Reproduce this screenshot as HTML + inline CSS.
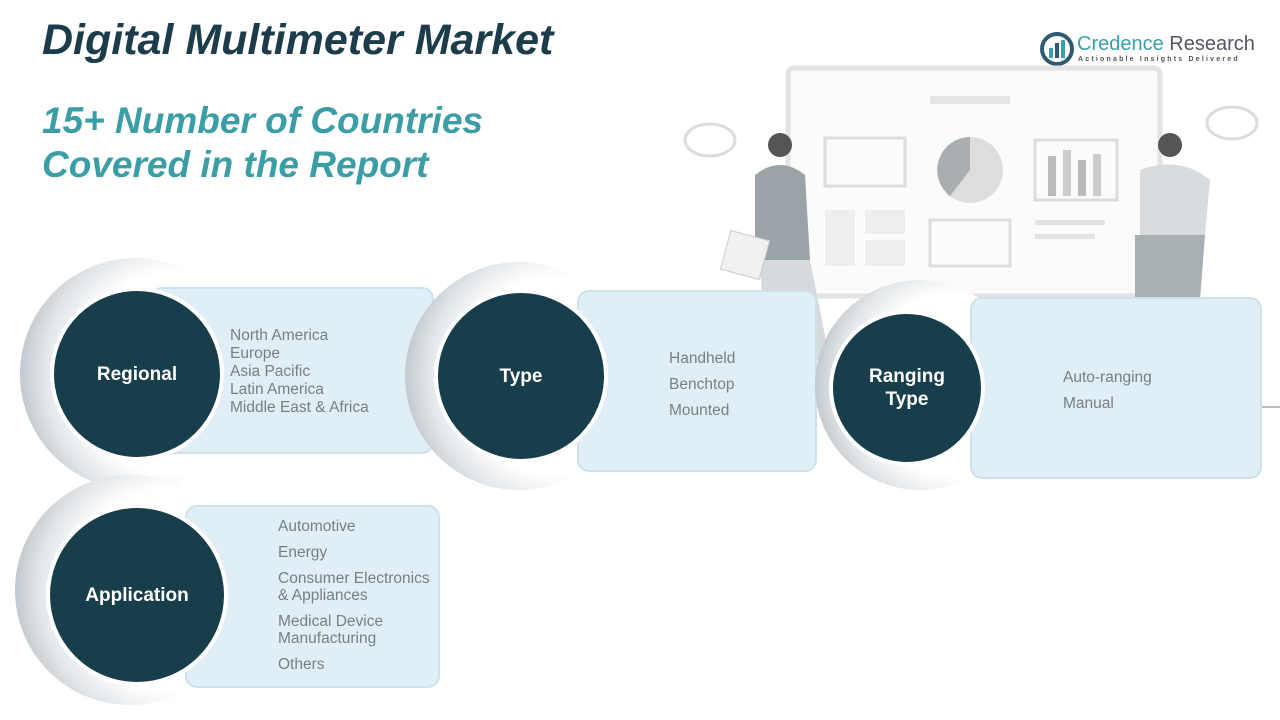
<!DOCTYPE html>
<html><head><meta charset="utf-8"><style>
body{margin:0;width:1280px;height:720px;background:#fff;position:relative;overflow:hidden;font-family:"Liberation Sans",sans-serif}
.a{position:absolute}
.t1{left:42px;top:16px;font-size:43px;font-weight:bold;font-style:italic;color:#1c3b4b}
.t2{left:42px;top:99px;font-size:37px;font-weight:bold;font-style:italic;color:#3b9ea6;line-height:44px}
.halo{position:absolute;border-radius:50%;background:radial-gradient(circle at 68% 50%,#fff 52%,#e3e7ea 68%,#8e9ba3 100%)}
.box{position:absolute;background:#e0eef6;border:2px solid #cfe2ec;border-radius:12px;color:#7a7f82;font-size:15.5px}
.c{position:absolute;border-radius:50%;background:#183d4b;border:4px solid #fff;color:#fff;font-weight:bold;font-size:19px;display:flex;align-items:center;justify-content:center;text-align:center;line-height:23px}
</style></head><body>
<div class="a t1">Digital Multimeter Market</div>
<div class="a t2">15+ Number of Countries<br>Covered in the Report</div>
<svg class="a" style="left:1040px;top:32px" width="34" height="34"><circle cx="17" cy="17" r="15" fill="none" stroke="#2f5b72" stroke-width="4"/><rect x="9" y="16" width="4" height="10" fill="#3aa0b0"/><rect x="15" y="11" width="4" height="15" fill="#2f5b72"/><rect x="21" y="8" width="4" height="18" fill="#3aa0b0"/></svg>
<div class="a" style="left:1077px;top:33px;font-size:20px;color:#3a9eb0">Credence <span style="color:#556">Research</span></div>
<div class="a" style="left:1078px;top:56px;font-size:7px;letter-spacing:2.2px;color:#555;font-weight:bold">Actionable Insights Delivered</div>
<svg class="a" style="left:680px;top:60px" width="600" height="360">
<rect x="108" y="8" width="372" height="228" rx="6" fill="#fbfbfb" stroke="#e3e3e3" stroke-width="5"/>
<rect x="250" y="36" width="80" height="8" fill="#e5e5e5"/>
<rect x="145" y="78" width="80" height="48" fill="none" stroke="#ddd" stroke-width="3"/>
<circle cx="290" cy="110" r="33" fill="#ddd"/><path d="M290 110 L290 77 A33 33 0 0 0 270 136Z" fill="#a9aeb1"/>
<rect x="355" y="80" width="82" height="60" fill="none" stroke="#ddd" stroke-width="3"/>
<rect x="368" y="96" width="8" height="40" fill="#bbb"/><rect x="383" y="90" width="8" height="46" fill="#ccc"/><rect x="398" y="100" width="8" height="36" fill="#bbb"/><rect x="413" y="94" width="8" height="42" fill="#ccc"/>
<rect x="145" y="150" width="30" height="56" fill="#eee"/><rect x="185" y="150" width="40" height="24" fill="#eee"/><rect x="185" y="180" width="40" height="26" fill="#eee"/>
<rect x="250" y="160" width="80" height="46" fill="none" stroke="#ddd" stroke-width="3"/>
<rect x="355" y="160" width="70" height="5" fill="#e3e3e3"/><rect x="355" y="174" width="60" height="5" fill="#e3e3e3"/>
<ellipse cx="30" cy="80" rx="25" ry="16" fill="none" stroke="#ddd" stroke-width="3"/>
<ellipse cx="552" cy="63" rx="25" ry="16" fill="none" stroke="#ddd" stroke-width="3"/>
<circle cx="100" cy="85" r="12" fill="#555"/><path d="M75 115 Q100 95 125 115 L130 200 L75 200Z" fill="#9aa3a8"/><path d="M80 200 L130 200 L150 300 L85 300Z" fill="#d7dadc"/>
<rect x="45" y="175" width="40" height="40" fill="#f1f1f1" stroke="#ccc" transform="rotate(15 65 195)"/>
<circle cx="490" cy="85" r="12" fill="#555"/><path d="M460 110 Q500 95 530 120 L525 175 L460 175Z" fill="#d9dcde"/><path d="M455 175 L525 175 L520 240 L455 240Z" fill="#a9b0b4"/>
<line x1="135" y1="347" x2="600" y2="347" stroke="#bbb" stroke-width="2"/>
</svg>
<div class="halo" style="left:20px;top:258px;width:232px;height:232px"></div>
<div class="box" style="left:150px;top:287px;width:280px;height:163px"><div style="position:absolute;left:78px;top:38px;line-height:18px">North America<br>Europe<br>Asia Pacific<br>Latin America<br>Middle East &amp; Africa</div></div>
<div class="c" style="left:50px;top:287px;width:166px;height:166px">Regional</div>
<div class="halo" style="left:405px;top:262px;width:228px;height:228px"></div>
<div class="box" style="left:577px;top:290px;width:236px;height:178px"><div style="position:absolute;left:90px;top:54px;line-height:26px">Handheld<br>Benchtop<br>Mounted</div></div>
<div class="c" style="left:434px;top:289px;width:166px;height:166px">Type</div>
<div class="halo" style="left:815px;top:280px;width:210px;height:210px"></div>
<div class="box" style="left:970px;top:297px;width:288px;height:178px"><div style="position:absolute;left:91px;top:66px;line-height:26px">Auto-ranging<br>Manual</div></div>
<div class="c" style="left:829px;top:310px;width:148px;height:148px">Ranging<br>Type</div>
<div class="halo" style="left:15px;top:475px;width:230px;height:230px"></div>
<div class="box" style="left:185px;top:505px;width:251px;height:179px"><div style="position:absolute;left:91px;top:11px;line-height:17px">Automotive<div style="height:9px"></div>Energy<div style="height:9px"></div>Consumer Electronics<br>&amp; Appliances<div style="height:9px"></div>Medical Device<br>Manufacturing<div style="height:9px"></div>Others</div></div>
<div class="c" style="left:46px;top:504px;width:174px;height:174px">Application</div>
</body></html>
